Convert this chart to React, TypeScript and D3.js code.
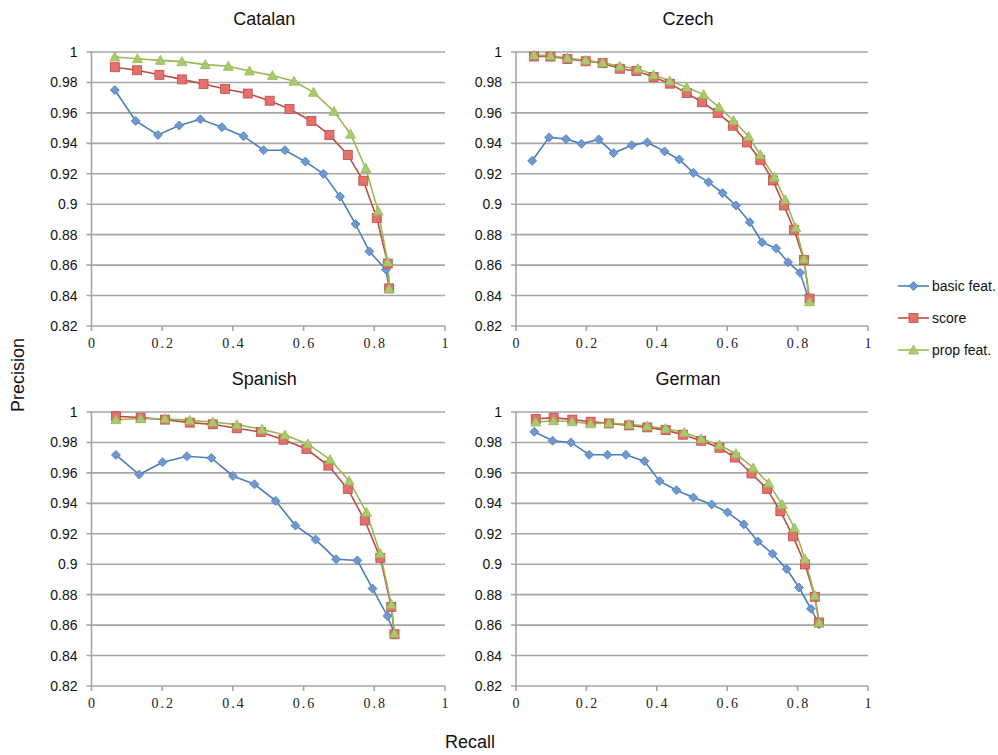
import React, { useEffect, useRef } from "react";
import * as d3 from "d3";

type Pt = [number, number];

// recall, precision pairs
const catalanBasic: Pt[] = [
  [0.066, 0.975], [0.125, 0.9547], [0.188, 0.9455], [0.248, 0.9517], [0.308, 0.9558],
  [0.369, 0.9506], [0.43, 0.9447], [0.487, 0.9355], [0.547, 0.9355], [0.605, 0.928],
  [0.656, 0.92], [0.703, 0.905], [0.747, 0.887], [0.786, 0.869], [0.833, 0.857], [0.842, 0.8447],
];
const catalanScore: Pt[] = [
  [0.066, 0.99], [0.129, 0.988], [0.192, 0.985], [0.256, 0.982], [0.317, 0.979],
  [0.378, 0.9757], [0.442, 0.9727], [0.504, 0.968], [0.56, 0.9626], [0.622, 0.9547],
  [0.673, 0.9455], [0.725, 0.9324], [0.769, 0.9154], [0.807, 0.891], [0.838, 0.861], [0.842, 0.8447],
];
const catalanProp: Pt[] = [
  [0.066, 0.9967], [0.13, 0.9956], [0.195, 0.9945], [0.256, 0.9937], [0.322, 0.9917],
  [0.387, 0.9906], [0.447, 0.9875], [0.512, 0.9845], [0.573, 0.9808], [0.628, 0.9735],
  [0.686, 0.961], [0.733, 0.946], [0.776, 0.9235], [0.811, 0.8955], [0.838, 0.862], [0.842, 0.8447],
];

const czechBasic: Pt[] = [
  [0.046, 0.9285], [0.094, 0.9439], [0.142, 0.9428], [0.186, 0.9397], [0.235, 0.9426],
  [0.277, 0.9336], [0.329, 0.9388], [0.373, 0.9406], [0.422, 0.9347], [0.464, 0.9294],
  [0.504, 0.9206], [0.547, 0.9145], [0.587, 0.9073], [0.625, 0.8992], [0.664, 0.8882],
  [0.699, 0.875], [0.739, 0.871], [0.773, 0.8619], [0.807, 0.8549], [0.834, 0.836],
];
const czechScore: Pt[] = [
  [0.051, 0.997], [0.098, 0.997], [0.146, 0.9954], [0.198, 0.9939], [0.246, 0.9928],
  [0.295, 0.989], [0.342, 0.9875], [0.391, 0.9836], [0.437, 0.9792], [0.485, 0.973],
  [0.529, 0.967], [0.573, 0.96], [0.616, 0.9516], [0.656, 0.9406], [0.694, 0.9292],
  [0.73, 0.9156], [0.761, 0.8992], [0.79, 0.8832], [0.818, 0.8634], [0.834, 0.838],
];
const czechProp: Pt[] = [
  [0.051, 0.998], [0.098, 0.9976], [0.146, 0.996], [0.198, 0.9945], [0.246, 0.993],
  [0.295, 0.9906], [0.346, 0.989], [0.391, 0.985], [0.437, 0.981], [0.485, 0.9768],
  [0.533, 0.972], [0.577, 0.9638], [0.618, 0.955], [0.661, 0.9445], [0.694, 0.9325],
  [0.734, 0.9178], [0.765, 0.9029], [0.795, 0.8845], [0.818, 0.864], [0.834, 0.836],
];

const spanishBasic: Pt[] = [
  [0.069, 0.9718], [0.135, 0.9589], [0.201, 0.967], [0.27, 0.9709], [0.339, 0.9698],
  [0.4, 0.958], [0.461, 0.9525], [0.521, 0.9416], [0.577, 0.9254], [0.634, 0.9162],
  [0.692, 0.9033], [0.752, 0.9025], [0.795, 0.884], [0.837, 0.866], [0.857, 0.8546],
];
const spanishScore: Pt[] = [
  [0.069, 0.9972], [0.139, 0.9963], [0.208, 0.995], [0.278, 0.993], [0.343, 0.9919],
  [0.411, 0.9893], [0.479, 0.9869], [0.543, 0.9818], [0.608, 0.9757], [0.67, 0.9648],
  [0.725, 0.9495], [0.773, 0.9287], [0.817, 0.9042], [0.848, 0.872], [0.857, 0.854],
];
const spanishProp: Pt[] = [
  [0.069, 0.995], [0.139, 0.9956], [0.208, 0.9956], [0.278, 0.9945], [0.343, 0.9934],
  [0.411, 0.9917], [0.482, 0.9886], [0.547, 0.9849], [0.612, 0.979], [0.675, 0.9687],
  [0.729, 0.9547], [0.778, 0.934], [0.817, 0.907], [0.848, 0.8736], [0.857, 0.8546],
];

const germanBasic: Pt[] = [
  [0.052, 0.987], [0.104, 0.9811], [0.156, 0.98], [0.208, 0.9719], [0.26, 0.9719],
  [0.312, 0.9719], [0.365, 0.9677], [0.408, 0.9546], [0.456, 0.9486], [0.504, 0.9438],
  [0.556, 0.9393], [0.601, 0.9341], [0.647, 0.9262], [0.687, 0.915], [0.729, 0.9069],
  [0.769, 0.8968], [0.804, 0.8847], [0.838, 0.8707], [0.861, 0.8606],
];
const germanScore: Pt[] = [
  [0.056, 0.9954], [0.107, 0.9963], [0.16, 0.995], [0.212, 0.9936], [0.264, 0.9925],
  [0.321, 0.9912], [0.373, 0.9899], [0.425, 0.9881], [0.474, 0.9851], [0.526, 0.9811],
  [0.578, 0.9765], [0.622, 0.9701], [0.669, 0.9596], [0.713, 0.9495], [0.751, 0.9348],
  [0.787, 0.9183], [0.821, 0.8999], [0.849, 0.8786], [0.861, 0.8617],
];
const germanProp: Pt[] = [
  [0.056, 0.9934], [0.107, 0.9943], [0.16, 0.9936], [0.212, 0.9923], [0.264, 0.9928],
  [0.321, 0.9919], [0.373, 0.9908], [0.425, 0.9892], [0.478, 0.9866], [0.526, 0.9824],
  [0.578, 0.9783], [0.625, 0.9726], [0.674, 0.9633], [0.718, 0.9532], [0.756, 0.9392],
  [0.791, 0.9238], [0.821, 0.9034], [0.849, 0.8795], [0.861, 0.8617],
];

const seriesNames = ["basic feat.", "score", "prop feat."];
const xTicks = [0, 0.2, 0.4, 0.6, 0.8, 1];
const yTicks = [0.82, 0.84, 0.86, 0.88, 0.9, 0.92, 0.94, 0.96, 0.98, 1];

const panels = [
  { title: "Catalan", series: [catalanBasic, catalanScore, catalanProp], x0: 91.5, x1: 445, y0: 52, y1: 326 },
  { title: "Czech", series: [czechBasic, czechScore, czechProp], x0: 516, x1: 868, y0: 52, y1: 326 },
  { title: "Spanish", series: [spanishBasic, spanishScore, spanishProp], x0: 91.5, x1: 445, y0: 412, y1: 686 },
  { title: "German", series: [germanBasic, germanScore, germanProp], x0: 516, x1: 868, y0: 412, y1: 686 },
];

const lineColors = ["#4a7ebb", "#be4b48", "#98b954"];
const fillColors = ["#6e98cf", "#e4706c", "#a9c96e"];
const sans = "'Liberation Sans', Arial, sans-serif";
const serif = "'Liberation Serif', 'DejaVu Serif', serif";
const grid = "#a5a5a5";

function marker(g: d3.Selection<SVGGElement, unknown, null, undefined>, kind: number, x: number, y: number) {
  if (kind === 0) {
    g.append("path")
      .attr("d", `M${x},${y - 4.5}L${x + 4.5},${y}L${x},${y + 4.5}L${x - 4.5},${y}Z`)
      .attr("fill", fillColors[0]).attr("stroke", lineColors[0]).attr("stroke-width", 0.8);
  } else if (kind === 1) {
    g.append("rect").attr("x", x - 4.5).attr("y", y - 4.5).attr("width", 9).attr("height", 9)
      .attr("fill", fillColors[1]).attr("stroke", lineColors[1]).attr("stroke-width", 0.8);
  } else {
    g.append("path")
      .attr("d", `M${x},${y - 5}L${x + 5},${y + 4}L${x - 5},${y + 4}Z`)
      .attr("fill", fillColors[2]).attr("stroke", lineColors[2]).attr("stroke-width", 0.8);
  }
}

export default function App() {
  const ref = useRef<SVGSVGElement | null>(null);

  useEffect(() => {
    const svg = d3.select(ref.current);
    svg.selectAll("*").remove();

    panels.forEach((p) => {
      const x = d3.scaleLinear().domain([0, 1]).range([p.x0, p.x1]);
      const y = d3.scaleLinear().domain([0.82, 1]).range([p.y1, p.y0]);
      const g = svg.append("g");

      // gridlines + y tick marks
      yTicks.forEach((t) => {
        g.append("line").attr("x1", p.x0 - 5).attr("x2", p.x1).attr("y1", y(t)).attr("y2", y(t))
          .attr("stroke", grid).attr("stroke-width", 1.6);
        g.append("text").attr("x", p.x0 - 14).attr("y", y(t)).attr("dy", "0.36em")
          .attr("text-anchor", "end").attr("font-family", sans).attr("font-size", 14)
          .attr("fill", "#111").text(String(+t.toFixed(2)));
      });
      // y axis
      g.append("line").attr("x1", p.x0).attr("x2", p.x0).attr("y1", p.y0).attr("y2", p.y1)
        .attr("stroke", grid).attr("stroke-width", 1.6);
      // x tick marks and labels
      xTicks.forEach((t) => {
        g.append("line").attr("x1", x(t)).attr("x2", x(t)).attr("y1", p.y1).attr("y2", p.y1 + 5)
          .attr("stroke", grid).attr("stroke-width", 1.6);
        g.append("text").attr("x", x(t) + 1).attr("y", p.y1 + 22)
          .attr("text-anchor", "middle").attr("font-family", serif).attr("font-size", 14)
          .attr("letter-spacing", 2).attr("fill", "#222").text(String(t));
      });

      g.append("text").attr("x", (p.x0 + p.x1) / 2 - 4).attr("y", 25)
        .attr("transform", `translate(0, ${p.y0 - 52})`)
        .attr("text-anchor", "middle").attr("font-family", sans).attr("font-size", 18)
        .attr("fill", "#111").text(p.title);

      const line = d3.line<Pt>().x((d) => x(d[0])).y((d) => y(d[1]));
      p.series.forEach((s, i) => {
        g.append("path").datum(s).attr("d", line).attr("fill", "none")
          .attr("stroke", lineColors[i]).attr("stroke-width", 1.6);
      });
      p.series.forEach((s, i) => {
        const mg = g.append("g");
        s.forEach((d) => marker(mg, i, x(d[0]), y(d[1])));
      });
    });

    // legend
    const lg = svg.append("g");
    seriesNames.forEach((name, i) => {
      const ly = 286 + i * 32;
      lg.append("line").attr("x1", 898).attr("x2", 929).attr("y1", ly).attr("y2", ly)
        .attr("stroke", lineColors[i]).attr("stroke-width", 1.6);
      marker(lg, i, 913.5, ly);
      lg.append("text").attr("x", 932).attr("y", ly).attr("dy", "0.36em")
        .attr("font-family", sans).attr("font-size", 14).attr("fill", "#111").text(name);
    });

    svg.append("text").attr("transform", "translate(24, 375) rotate(-90)")
      .attr("text-anchor", "middle").attr("font-family", sans).attr("font-size", 18)
      .attr("fill", "#111").text("Precision");
    svg.append("text").attr("x", 470).attr("y", 748)
      .attr("text-anchor", "middle").attr("font-family", sans).attr("font-size", 18)
      .attr("fill", "#111").text("Recall");
  }, []);

  return (
    <svg ref={ref} width={998} height={755}
      style={{ position: "absolute", left: 0, top: 0, background: "#fff" }} />
  );
}
